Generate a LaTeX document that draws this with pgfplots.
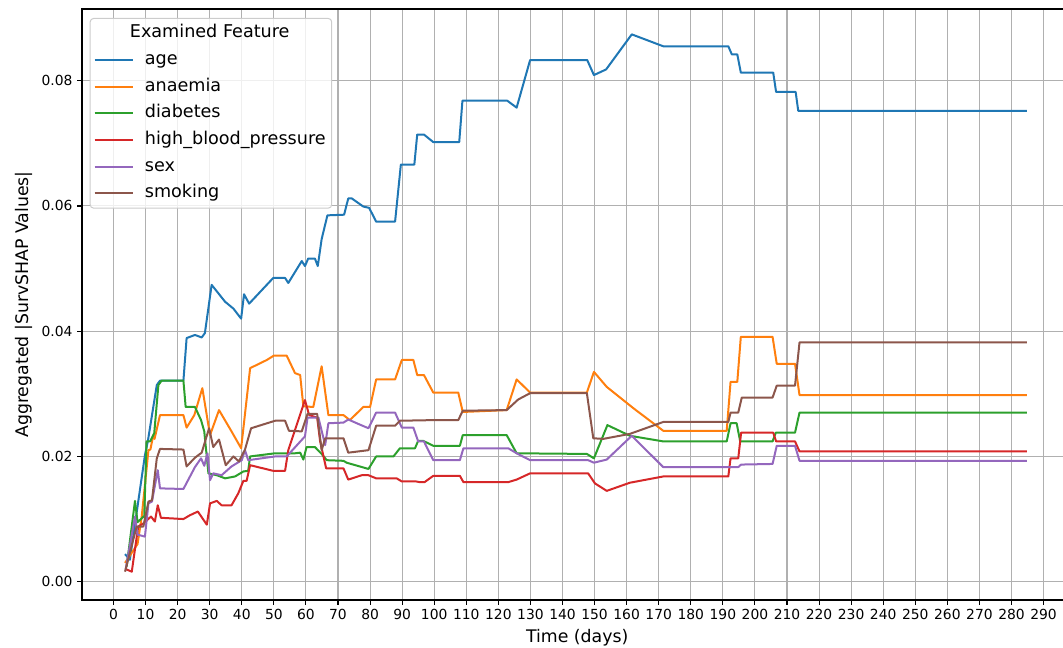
\documentclass[border=0pt]{standalone}
\usepackage{pgfplots}
\pgfplotsset{compat=1.18}
\usepackage{fontspec}
\setmainfont{DejaVu Sans}
\definecolor{c0}{HTML}{1F77B4}
\definecolor{c1}{HTML}{FF7F0E}
\definecolor{c2}{HTML}{2CA02C}
\definecolor{c3}{HTML}{D62728}
\definecolor{c4}{HTML}{9467BD}
\definecolor{c5}{HTML}{8C564B}
\definecolor{gridc}{HTML}{B0B0B0}
\definecolor{legc}{HTML}{CCCCCC}
\begin{document}
\begin{tikzpicture}
\begin{axis}[
  scale only axis,
  width=742.8pt, height=443.2pt,
  xmin=-9.82, xmax=299,
  ymin=-0.00292, ymax=0.09145,
  xtick={0,10,...,290},
  ytick={0,0.02,0.04,0.06,0.08},
  scaled y ticks=false,
  yticklabel style={/pgf/number format/fixed,/pgf/number format/fixed zerofill,/pgf/number format/precision=2},
  /pgf/number format/assume math mode=true,
  tick label style={font=\fontsize{10.4}{12}\selectfont, black},
  tick pos=left,
  tick align=outside,
  major tick length=3.65pt,
  every tick/.style={black, line width=0.83pt},
  axis line style={black, line width=0.83pt},
  grid=major,
  major grid style={gridc, line width=0.8pt},
  xlabel={Time (days)},
  ylabel={Aggregated |SurvSHAP Values|},
  label style={font=\fontsize{13}{15}\selectfont},
  legend cell align=left,
  legend image code/.code={\draw[#1, line width=1.5pt] (0pt,0pt) -- (28.5pt,0pt);},
  legend style={at={(0.0078,0.9848)}, anchor=north west,
    font=\fontsize{13.2}{15}\selectfont,
    draw=legc, line width=0.75pt, rounded corners=2.5pt,
    fill=white, fill opacity=0.8, text opacity=1,
    inner sep=2.5pt, row sep=2.8pt, column sep=6.5pt,
    nodes={inner sep=2pt, text height=10pt, text depth=3.2pt}},
  every axis plot/.append style={line width=1.5pt, line join=round},
]
\addlegendimage{empty legend}
\addlegendentry{\hspace*{-11.25pt}Examined Feature}

\addplot[c0] coordinates {
(3.6,0.0044) (5.1,0.0035) (9.8,0.0202) (10.7,0.0224) (13.5,0.0314) (14.5,0.0321) (21.8,0.0321) (22.8,0.0389) (25.4,0.0394) (27.5,0.0390) (28.5,0.0397) (30.6,0.0474) (34.8,0.0447) (37.4,0.0436) (39.8,0.0420) (40.7,0.0459) (42.3,0.0444) (49.8,0.0485) (53.5,0.0485) (54.5,0.0477) (58.7,0.0512) (59.7,0.0504) (60.7,0.0516) (62.8,0.0516) (63.7,0.0504) (64.9,0.0547) (66.7,0.0585) (71.9,0.0586) (73.2,0.0612) (74.3,0.0612) (77.9,0.0599) (79.7,0.0597) (81.9,0.0575) (87.8,0.0575) (89.6,0.0666) (93.8,0.0666) (94.7,0.0714) (96.8,0.0714) (99.7,0.0702) (107.8,0.0702) (108.8,0.0768) (122.8,0.0768) (125.7,0.0757) (129.9,0.0833) (147.7,0.0833) (149.8,0.0809) (153.6,0.0818) (161.6,0.0874) (171.4,0.0855) (191.7,0.0855) (192.8,0.0842) (194.5,0.0842) (195.6,0.0813) (205.7,0.0813) (206.6,0.0782) (212.7,0.0782) (213.5,0.0752) (284.8,0.0752)
};
\addlegendentry{age}

\addplot[c1] coordinates {
(3.6,0.0030) (7.5,0.0060) (8.8,0.0104) (10.9,0.0210) (11.5,0.0211) (12.4,0.0234) (12.8,0.0228) (14.5,0.0266) (21.8,0.0266) (22.8,0.0246) (25.2,0.0266) (27.7,0.0309) (30.1,0.0234) (32.9,0.0274) (36.8,0.0240) (39.8,0.0213) (42.6,0.0341) (47.8,0.0354) (50.0,0.0361) (54.0,0.0361) (56.6,0.0333) (58.2,0.0330) (59.2,0.0280) (62.3,0.0279) (64.9,0.0344) (67.0,0.0266) (71.7,0.0266) (73.7,0.0258) (77.9,0.0279) (80.0,0.0279) (81.9,0.0323) (87.8,0.0323) (89.9,0.0354) (93.5,0.0354) (94.7,0.0330) (96.8,0.0330) (99.7,0.0302) (107.5,0.0302) (108.9,0.0271) (122.6,0.0274) (125.7,0.0323) (129.9,0.0302) (147.6,0.0302) (149.8,0.0335) (153.8,0.0311) (162.1,0.0277) (171.4,0.0241) (191.2,0.0241) (192.4,0.0319) (194.5,0.0319) (195.6,0.0391) (205.5,0.0391) (206.8,0.0348) (212.5,0.0348) (213.9,0.0298) (284.8,0.0298)
};
\addlegendentry{anaemia}

\addplot[c2] coordinates {
(4.1,0.0024) (6.7,0.0129) (7.5,0.0095) (9.6,0.0105) (10.3,0.0224) (11.4,0.0224) (12.7,0.0237) (14.0,0.0314) (15.0,0.0321) (21.8,0.0321) (22.5,0.0279) (25.4,0.0279) (27.3,0.0258) (28.3,0.0240) (29.6,0.0173) (32.2,0.0170) (34.8,0.0165) (37.9,0.0168) (40.5,0.0176) (42.0,0.0177) (42.6,0.0200) (50.4,0.0205) (56.6,0.0205) (58.2,0.0206) (59.2,0.0195) (60.2,0.0215) (62.8,0.0215) (64.9,0.0204) (66.5,0.0194) (71.7,0.0193) (72.7,0.0190) (79.5,0.0180) (81.9,0.0200) (87.3,0.0200) (89.3,0.0213) (94.0,0.0213) (95.0,0.0225) (96.5,0.0225) (99.7,0.0217) (108.0,0.0217) (108.9,0.0234) (122.6,0.0234) (125.7,0.0205) (147.6,0.0204) (149.8,0.0197) (154.0,0.0250) (161.0,0.0233) (171.4,0.0224) (191.2,0.0224) (192.4,0.0253) (194.3,0.0253) (195.4,0.0224) (205.5,0.0224) (206.5,0.0238) (212.5,0.0238) (213.9,0.0270) (284.8,0.0270)
};
\addlegendentry{diabetes}

\addplot[c3] coordinates {
(3.8,0.0020) (5.7,0.0016) (7.7,0.0088) (9.3,0.0093) (11.7,0.0104) (12.9,0.0096) (13.8,0.0122) (14.8,0.0102) (21.8,0.0100) (23.8,0.0106) (26.3,0.0112) (27.5,0.0103) (29.1,0.0091) (30.1,0.0125) (32.2,0.0129) (33.7,0.0122) (36.8,0.0122) (38.9,0.0141) (40.5,0.0161) (41.5,0.0161) (42.6,0.0186) (49.8,0.0177) (53.5,0.0177) (54.5,0.0210) (59.7,0.0290) (61.0,0.0266) (63.5,0.0262) (64.4,0.0225) (66.3,0.0181) (71.7,0.0181) (73.2,0.0163) (77.4,0.0170) (79.5,0.0170) (81.9,0.0165) (88.3,0.0165) (89.9,0.0160) (94.4,0.0160) (95.4,0.0159) (97.0,0.0159) (99.7,0.0169) (108.0,0.0169) (109.1,0.0159) (123.1,0.0159) (125.7,0.0163) (129.9,0.0173) (148.0,0.0173) (150.1,0.0157) (153.8,0.0145) (161.0,0.0158) (171.4,0.0168) (191.7,0.0168) (192.4,0.0197) (194.8,0.0197) (195.7,0.0238) (205.7,0.0238) (206.6,0.0224) (212.5,0.0224) (213.9,0.0208) (284.8,0.0208)
};
\addlegendentry{high\_blood\_pressure}

\addplot[c4] coordinates {
(3.8,0.0020) (6.7,0.0104) (7.5,0.0075) (9.8,0.0072) (10.9,0.0125) (12.0,0.0128) (13.8,0.0178) (14.5,0.0149) (21.8,0.0148) (25.4,0.0183) (27.3,0.0197) (28.3,0.0185) (29.3,0.0205) (30.1,0.0162) (31.1,0.0173) (33.7,0.0170) (36.8,0.0184) (40.0,0.0194) (41.0,0.0210) (42.0,0.0194) (50.4,0.0200) (54.0,0.0200) (59.7,0.0232) (60.5,0.0262) (63.9,0.0262) (66.0,0.0218) (67.0,0.0253) (71.7,0.0254) (73.2,0.0259) (76.3,0.0252) (79.5,0.0245) (81.9,0.0270) (87.8,0.0270) (89.9,0.0246) (93.5,0.0246) (95.0,0.0224) (96.8,0.0224) (99.7,0.0194) (108.0,0.0194) (109.1,0.0213) (123.1,0.0213) (125.7,0.0205) (129.9,0.0194) (148.0,0.0194) (149.8,0.0190) (153.8,0.0195) (161.6,0.0233) (171.4,0.0183) (194.8,0.0183) (195.7,0.0187) (205.5,0.0188) (206.8,0.0217) (212.5,0.0217) (213.9,0.0193) (284.8,0.0193)
};
\addlegendentry{sex}

\addplot[c5] coordinates {
(3.6,0.0016) (7.2,0.0088) (9.3,0.0088) (10.9,0.0128) (12.0,0.0130) (13.5,0.0197) (14.5,0.0212) (21.8,0.0211) (22.8,0.0184) (25.4,0.0198) (27.5,0.0206) (29.8,0.0245) (31.1,0.0215) (32.9,0.0227) (35.0,0.0186) (37.4,0.0200) (39.1,0.0192) (41.0,0.0211) (42.9,0.0245) (50.4,0.0257) (53.5,0.0257) (54.7,0.0241) (58.7,0.0240) (60.5,0.0268) (63.5,0.0268) (64.9,0.0210) (66.0,0.0229) (71.7,0.0229) (73.2,0.0206) (79.5,0.0210) (81.9,0.0249) (87.8,0.0249) (89.3,0.0257) (99.7,0.0258) (107.5,0.0258) (108.9,0.0273) (122.6,0.0274) (126.2,0.0291) (129.9,0.0301) (147.6,0.0301) (149.6,0.0229) (152.7,0.0228) (161.0,0.0236) (171.4,0.0255) (191.7,0.0255) (192.4,0.0270) (194.8,0.0270) (195.9,0.0294) (205.5,0.0294) (206.8,0.0313) (212.5,0.0313) (213.9,0.0382) (284.8,0.0382)
};
\addlegendentry{smoking}

\coordinate (bbsw) at (axis cs:-35.39,-0.01059);
\coordinate (bbne) at (axis cs:296.06,0.09289);
\end{axis}
\pgfresetboundingbox
\useasboundingbox (bbsw) rectangle (bbne);
\end{tikzpicture}
\end{document}
